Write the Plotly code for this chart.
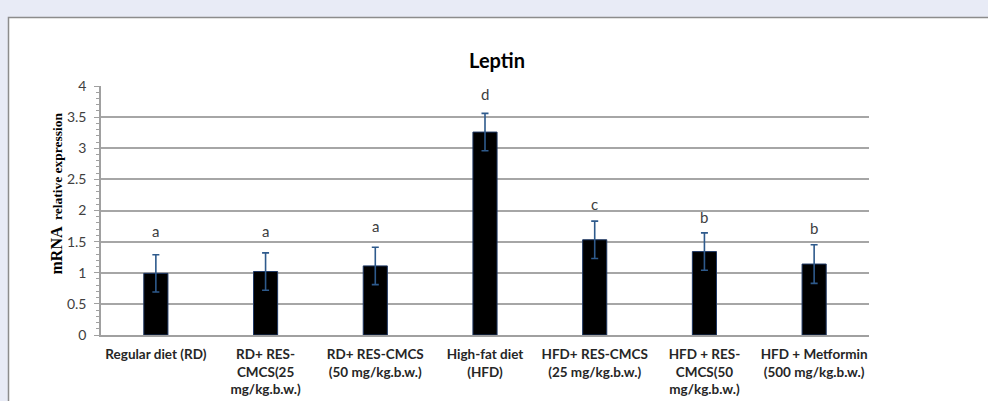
import plotly.graph_objects as go

categories = [
    "Regular diet (RD)",
    "RD+ RES-<br>CMCS(25<br>mg/kg.b.w.)",
    "RD+ RES-CMCS<br>(50 mg/kg.b.w.)",
    "High-fat diet<br>(HFD)",
    "HFD+ RES-CMCS<br>(25 mg/kg.b.w.)",
    "HFD + RES-<br>CMCS(50<br>mg/kg.b.w.)",
    "HFD + Metformin<br>(500 mg/kg.b.w.)",
]
values = [0.99, 1.02, 1.11, 3.26, 1.53, 1.34, 1.14]
errors = [0.30, 0.30, 0.30, 0.30, 0.30, 0.30, 0.31]
letters = ["a", "a", "a", "d", "c", "b", "b"]
letter_y = [1.67, 1.67, 1.75, 3.87, 2.10, 1.89, 1.72]

W, H = 988, 401
L, R, T, B = 101, 869, 86, 335
pw, ph = R - L, B - T

def px_x(x):
    return (x - L) / pw

def px_y(y):
    return (B - y) / ph

fig = go.Figure()
fig.add_trace(go.Bar(
    x=categories, y=values,
    marker=dict(color="#000000", line=dict(color="#1F3864", width=1)),
    width=0.22,
    error_y=dict(type="data", array=errors, visible=True,
                 color="#2E5A8C", thickness=1.6, width=3.5),
    showlegend=False,
))

for c, t, yy in zip(categories, letters, letter_y):
    fig.add_annotation(x=c, y=yy, text=t, showarrow=False,
                       font=dict(family="Lato", size=15, color="#404040"),
                       yanchor="middle")

# y-axis title
fig.add_annotation(
    xref="paper", yref="paper", x=px_x(45), y=px_y(194),
    text="<b><span style='font-size:16px'>mRNA</span>  <span style='font-size:13.5px'>relative expression</span></b>",
    textangle=-90, showarrow=False,
    font=dict(family="Liberation Serif", size=13, color="#000000"),
)

# chart area frame
fig.add_shape(type="rect", xref="paper", yref="paper", layer="below",
              x0=px_x(8.5), x1=px_x(1010), y0=px_y(17.5), y1=px_y(420),
              fillcolor="#FFFFFF", line=dict(color="#8C8C8C", width=1.5))

fig.update_layout(
    width=W, height=H,
    margin=dict(l=L, r=W - R, t=T, b=H - B, pad=0, autoexpand=False),
    paper_bgcolor="#E8EBF6",
    plot_bgcolor="rgba(0,0,0,0)",
    title=dict(text="<b>Leptin</b>", x=px_x(497), xref="paper",
               y=1 - 61 / H, yref="container", xanchor="center", yanchor="middle",
               font=dict(family="Lato", size=20, color="#000000")),
    xaxis=dict(
        type="category", showline=True, linecolor="#A0A0A0", linewidth=1.5,
        ticks="", showgrid=False, automargin=False,
        tickfont=dict(family="Lato", size=13.5, color="#262626", weight="bold"),
        ticklabelstandoff=6,
    ),
    yaxis=dict(
        range=[0, 4], dtick=0.5, tick0=0, automargin=False,
        showline=True, linecolor="#A0A0A0", linewidth=1.5,
        showgrid=True, gridcolor="#A6A6A6", gridwidth=1.5,
        ticks="outside", ticklen=5, tickcolor="#A0A0A0", tickwidth=1.2,
        minor=dict(dtick=0.1, ticks="outside", ticklen=3, tickcolor="#A0A0A0",
                   tickwidth=1, showgrid=False),
        tickfont=dict(family="Lato", size=14, color="#404040"),
        ticklabelstandoff=5,
        zeroline=False,
    ),
)

fig.write_html(
    "out.html",
    config={"displayModeBar": False},
    post_script=(
        "document.body.style.margin='0';"
        "document.body.style.overflow='hidden';"
        "document.body.style.background='#E8EBF6';"
    ),
)
